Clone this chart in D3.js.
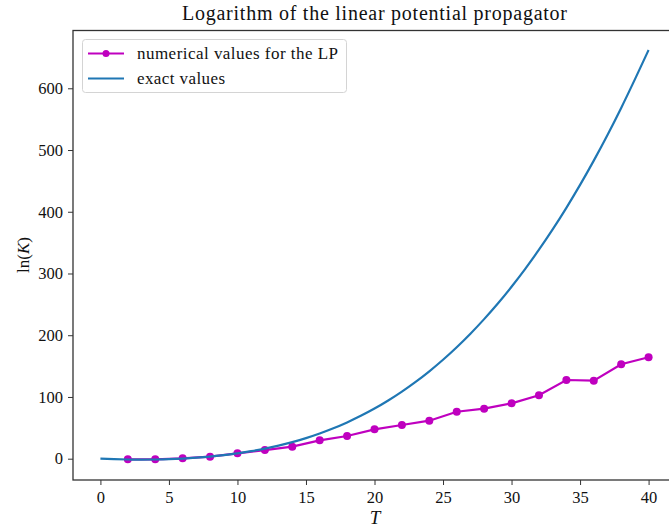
<!DOCTYPE html>
<html>
<head>
<meta charset="utf-8">
<script src="https://cdn.jsdelivr.net/npm/d3@7"></script>
<style>
  html, body { margin: 0; padding: 0; background: #fff; }
  svg { display: block; }
  text { font-family: "Liberation Serif", "DejaVu Serif", serif; fill: #111; }
</style>
</head>
<body>
<svg id="chart" width="669" height="528"></svg>
<script>
// Numerical estimates of ln K on the even time grid
const numT = [2, 4, 6, 8, 10, 12, 14, 16, 18, 20, 22, 24, 26, 28, 30, 32, 34, 36, 38, 40];
const numLnK = [-1, -1, 0.6, 3.3, 8.7, 14, 19.5, 29.8, 36.8, 47.6, 54.6, 61.6, 76.1, 81, 89.7, 102.7, 127.5, 126.4, 152.9, 164.3];

// Exact ln K sampled at integer T
const exactT = [0, 1, 2, 3, 4, 5, 6, 7, 8, 9, 10, 11, 12, 13, 14, 15, 16, 17, 18, 19, 20,
                21, 22, 23, 24, 25, 26, 27, 28, 29, 30, 31, 32, 33, 34, 35, 36, 37, 38, 39, 40];
const exactLnK = [0, -0.8, -1.3, -1.5, -1.3, -0.8, 0.2, 1.6, 3.4, 5.8, 8.6, 12.2, 16.3, 21.2, 26.9, 33.4,
                  40.9, 49.3, 58.8, 69.4, 81.2, 94.3, 108.7, 124.4, 141.6, 160.3, 180.6, 202.5, 226.1,
                  251.4, 278.6, 307.6, 338.5, 371.4, 406.4, 443.5, 482.8, 524.3, 568.2, 614.4, 662];

const xTicks = [0, 5, 10, 15, 20, 25, 30, 35, 40];
const yTicks = [0, 100, 200, 300, 400, 500, 600];

const svg = d3.select("#chart");
const m = { left: 73, top: 30.5, right: 676, bottom: 480 };

const x = d3.scaleLinear().domain([-2, 42]).range([m.left, m.right]);
const y = d3.scaleLinear().domain([-34.5, 693.6]).range([m.bottom, m.top]);

svg.append("clipPath").attr("id", "clip")
  .append("rect").attr("x", m.left).attr("y", m.top)
  .attr("width", m.right - m.left).attr("height", m.bottom - m.top);

// axes
const xAxis = d3.axisBottom(x).tickValues(xTicks).tickSize(5).tickPadding(6).tickFormat(d3.format("d"));
const yAxis = d3.axisLeft(y).tickValues(yTicks).tickSize(5).tickPadding(5).tickFormat(d3.format("d"));

const gx = svg.append("g").attr("transform", `translate(0,${m.bottom})`).call(xAxis);
const gy = svg.append("g").attr("transform", `translate(${m.left},0)`).call(yAxis);
[gx, gy].forEach(g => {
  g.select(".domain").remove();
  g.selectAll(".tick line").attr("stroke", "#333").attr("stroke-width", 1);
  g.selectAll(".tick text").attr("font-size", 16.5)
    .style("font-family", "'Liberation Serif', serif").attr("fill", "#222");
});

// frame
svg.append("rect")
  .attr("x", m.left).attr("y", m.top)
  .attr("width", m.right - m.left).attr("height", m.bottom - m.top)
  .attr("fill", "none").attr("stroke", "#333").attr("stroke-width", 1.3);

const g = svg.append("g").attr("clip-path", "url(#clip)");

const line = d3.line().x(d => x(d[0])).y(d => y(d[1]));
const lineCurve = d3.line().x(d => x(d[0])).y(d => y(d[1])).curve(d3.curveMonotoneX);

const numData = numT.map((t, i) => [t, numLnK[i]]);
const exactData = exactT.map((t, i) => [t, exactLnK[i]]);

g.append("path").datum(numData)
  .attr("d", line).attr("fill", "none")
  .attr("stroke", "#bf00bf").attr("stroke-width", 2.2);
g.selectAll("circle.num").data(numData).join("circle")
  .attr("class", "num")
  .attr("cx", d => x(d[0])).attr("cy", d => y(d[1])).attr("r", 4)
  .attr("fill", "#bf00bf");

g.append("path").datum(exactData)
  .attr("d", lineCurve).attr("fill", "none")
  .attr("stroke", "#1f77b4").attr("stroke-width", 2.2);

// title and axis labels
svg.append("text").attr("x", 182).attr("y", 20)
  .attr("font-size", 20).attr("textLength", 385).attr("lengthAdjust", "spacing")
  .text("Logarithm of the linear potential propagator");

svg.append("text").attr("x", 375).attr("y", 524).attr("text-anchor", "middle")
  .attr("font-size", 19).attr("font-style", "italic").text("T");

const yl = svg.append("text")
  .attr("transform", `translate(29,255) rotate(-90)`)
  .attr("text-anchor", "middle").attr("font-size", 17);
yl.append("tspan").text("ln(");
yl.append("tspan").attr("font-style", "italic").text("K");
yl.append("tspan").text(")");

// legend
const lg = svg.append("g");
lg.append("rect").attr("x", 82.5).attr("y", 39.5).attr("width", 264).attr("height", 53)
  .attr("rx", 3).attr("fill", "#fff").attr("fill-opacity", 0.8)
  .attr("stroke", "#d4d4d4").attr("stroke-width", 1);
const items = [
  { label: "numerical values for the LP", color: "#bf00bf", marker: true, yy: 53.5, w: 201 },
  { label: "exact values", color: "#1f77b4", marker: false, yy: 78.5, w: 88 }
];
items.forEach(it => {
  lg.append("line").attr("x1", 88).attr("x2", 124).attr("y1", it.yy).attr("y2", it.yy)
    .attr("stroke", it.color).attr("stroke-width", 2.2);
  if (it.marker) lg.append("circle").attr("cx", 106).attr("cy", it.yy).attr("r", 3.5).attr("fill", it.color);
  lg.append("text").attr("x", 137).attr("y", it.yy + 5).attr("font-size", 17)
    .attr("textLength", it.w).attr("lengthAdjust", "spacing").text(it.label);
});
</script>
</body>
</html>
